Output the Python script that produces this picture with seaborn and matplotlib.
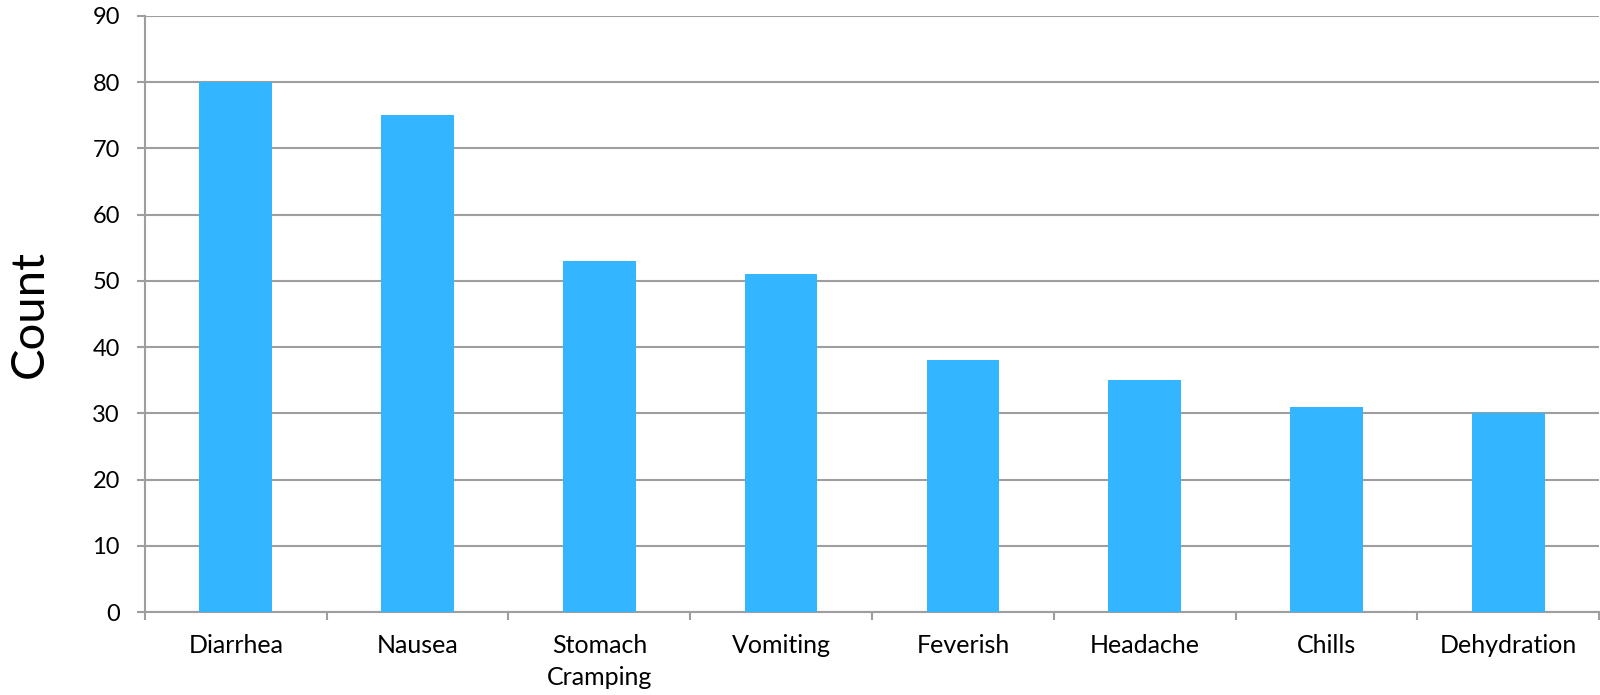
import matplotlib
matplotlib.use("Agg")
import matplotlib.pyplot as plt
import seaborn as sns
import numpy as np
import pandas as pd

categories = ["Diarrhea", "Nausea", "Stomach\nCramping", "Vomiting", "Feverish",
              "Headache", "Chills", "Dehydration"]
counts = [80, 75, 53, 51, 38, 35, 31, 30]
y_ticks = [0, 10, 20, 30, 40, 50, 60, 70, 80, 90]

sns.set_theme(style="white")
plt.rcParams['font.family'] = ['Lato', 'DejaVu Sans']

df = pd.DataFrame({"symptom": categories, "count": counts})

fig = plt.figure(figsize=(16, 6.95), dpi=100)
ax = fig.add_axes([0.0906, 0.1194, 0.9088, 0.8576])

sns.barplot(data=df, x="symptom", y="count", color="#33B5FF", width=0.4,
            saturation=1, ax=ax, zorder=3, linewidth=0, edgecolor="none")

grid_c = "#9E9E9E"
ax.set_ylim(0, 90)
ax.set_xlim(-0.5, len(categories) - 0.5)
ax.set_yticks(y_ticks)
ax.set_yticklabels([str(v) for v in y_ticks], fontsize=17, color="#000000")
ax.yaxis.grid(True, color=grid_c, linewidth=1.5, zorder=0)
ax.set_axisbelow(True)

ax.set_xticks(range(len(categories)))
ax.set_xticklabels(categories, fontsize=18, color="#000000", linespacing=1.45)
ax.set_xticks(np.arange(-0.5, len(categories), 1.0), minor=True)
ax.tick_params(axis="x", which="major", length=0, pad=16)
ax.tick_params(axis="x", which="minor", length=6, width=1.5, color=grid_c, direction="out")
ax.tick_params(axis="y", which="major", length=6, width=1.5, color=grid_c, pad=12, direction="out")
ax.tick_params(left=True, bottom=True)
ax.xaxis.set_tick_params(which="minor", bottom=True)

for s in ["top", "right"]:
    ax.spines[s].set_visible(False)
for s in ["left", "bottom"]:
    ax.spines[s].set_color(grid_c)
    ax.spines[s].set_linewidth(1.5)

ax.set_xlabel("")
ax.set_ylabel("Count", fontsize=34, color="#000000", labelpad=30)

fig.savefig("out.png", dpi=100)
